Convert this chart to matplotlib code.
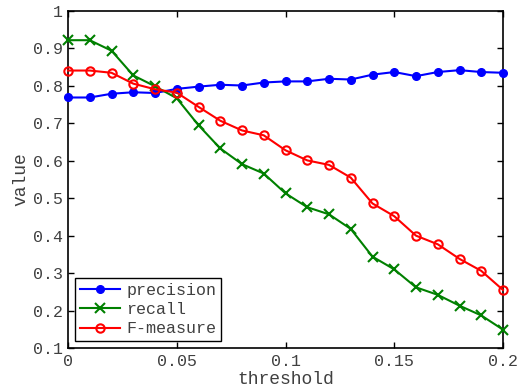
import matplotlib
matplotlib.use("Agg")
import matplotlib.pyplot as plt
import numpy as np

threshold = [0.00, 0.01, 0.02, 0.03, 0.04, 0.05, 0.06, 0.07, 0.08, 0.09, 0.10,
             0.11, 0.12, 0.13, 0.14, 0.15, 0.16, 0.17, 0.18, 0.19, 0.20]
precision = [0.769, 0.769, 0.779, 0.783, 0.781, 0.792, 0.798, 0.803, 0.801, 0.809, 0.812,
             0.812, 0.819, 0.817, 0.830, 0.837, 0.826, 0.837, 0.842, 0.837, 0.835]
recall = [0.922, 0.922, 0.894, 0.828, 0.799, 0.767, 0.695, 0.633, 0.591, 0.566, 0.513,
          0.476, 0.457, 0.418, 0.344, 0.310, 0.262, 0.242, 0.213, 0.187, 0.149]
fmeasure = [0.841, 0.841, 0.835, 0.806, 0.791, 0.782, 0.744, 0.707, 0.681, 0.668, 0.628,
            0.601, 0.589, 0.555, 0.486, 0.452, 0.400, 0.377, 0.338, 0.306, 0.255]
xticks = [0, 0.05, 0.1, 0.15, 0.2]
xticklabels = ["0", "0.05", "0.1", "0.15", "0.2"]
yticks = [0.1, 0.2, 0.3, 0.4, 0.5, 0.6, 0.7, 0.8, 0.9, 1.0]
yticklabels = ["0.1", "0.2", "0.3", "0.4", "0.5", "0.6", "0.7", "0.8", "0.9", "1"]

plt.rcParams['font.family'] = ['Liberation Mono', 'DejaVu Sans Mono']
txtc = '#404040'

W, H = 526, 391
fig = plt.figure(figsize=(W/100, H/100), dpi=100)
ax = fig.add_axes([68/W, 1 - 348/H, (503-68)/W, (348-11)/H])

ax.plot(threshold, precision, color=(0, 0, 1), lw=1.5, marker='o', ms=5.5,
        mfc=(0, 0, 1), mec=(0, 0, 1), label='precision', clip_on=False, zorder=3)
ax.plot(threshold, recall, color=(0, 0.5, 0), lw=1.5, marker='x', ms=6.5, mew=1.5,
        label='recall', clip_on=False, zorder=3)
ax.plot(threshold, fmeasure, color=(1, 0, 0), lw=1.5, marker='o', ms=6, mew=1.5,
        mfc='none', mec=(1, 0, 0), label='F-measure', clip_on=False, zorder=3)

ax.set_xlim(0, 0.2)
ax.set_ylim(0.1, 1.0)
ax.set_xticks(xticks)
ax.set_xticklabels(xticklabels)
ax.set_yticks(yticks)
ax.set_yticklabels(yticklabels)
ax.tick_params(direction='in', top=True, right=True, length=4, width=1,
               labelsize=12, labelcolor=txtc, color='black')
ax.tick_params(axis='y', pad=3.5)
ax.tick_params(axis='x', pad=4.5)
for s in ax.spines.values():
    s.set_linewidth(1.2)
    s.set_color('black')

ax.set_xlabel('threshold', fontsize=13, color=txtc, labelpad=1)
ax.set_ylabel('value', fontsize=13, color=txtc, labelpad=3)

leg = ax.legend(loc='lower left', fontsize=12, frameon=True, fancybox=False,
                edgecolor='black', framealpha=1, handlelength=2.4,
                borderpad=0.3, labelspacing=0.25, handletextpad=0.4,
                borderaxespad=0.4)
leg.get_frame().set_linewidth(1.0)
for t in leg.get_texts():
    t.set_color(txtc)

fig.savefig('out.png', dpi=100)
